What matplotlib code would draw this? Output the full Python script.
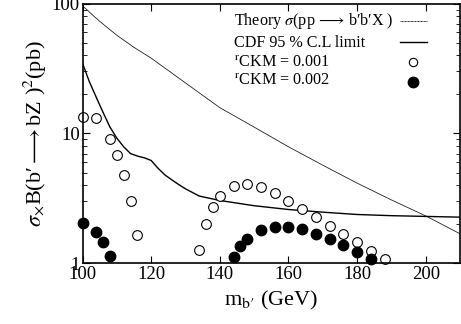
import matplotlib
matplotlib.use("Agg")
import matplotlib.pyplot as plt
from matplotlib.lines import Line2D
from matplotlib.ticker import FixedLocator, LogLocator, NullFormatter, FuncFormatter

plt.rcParams['font.family'] = ['Liberation Serif', 'DejaVu Serif']
plt.rcParams['mathtext.fontset'] = 'stix'

# theory cross section sigma(pp -> b'b'X)
m_theory = [100, 105, 110, 115, 120, 130, 140, 150, 160, 170, 180, 190, 200, 210]
s_theory = [96, 73, 57, 46, 38, 24.5, 15.8, 11.2, 7.9, 5.7, 4.15, 3.08, 2.32, 1.69]

# CDF 95% C.L. limit
m_cdf = [100, 102, 104, 106, 108, 110, 112, 114, 116, 118, 120, 122, 124, 126,
         128, 130, 134, 140, 150, 160, 170, 180, 190, 200, 210]
s_cdf = [34.7, 25, 19, 14.5, 11.2, 9.2, 7.9, 7.0, 6.7, 6.5, 6.2, 5.4, 4.8, 4.4,
         4.05, 3.75, 3.3, 3.05, 2.78, 2.6, 2.48, 2.38, 2.33, 2.3, 2.27]

# r_CKM = 0.001
m_r1 = [100, 104, 108, 110, 112, 114, 116, 134, 136, 138, 140, 144, 148, 152,
        156, 160, 164, 168, 172, 176, 180, 184, 188]
s_r1 = [13.5, 13.1, 9.1, 6.8, 4.8, 3.04, 1.66, 1.27, 2.01, 2.73, 3.31, 3.97,
        4.07, 3.85, 3.47, 3.04, 2.63, 2.27, 1.95, 1.68, 1.46, 1.25, 1.08]

# r_CKM = 0.002
m_r2 = [100, 104, 106, 108, 144, 146, 148, 152, 156, 160, 164, 168, 172, 176, 180, 184]
s_r2 = [2.04, 1.76, 1.47, 1.15, 1.12, 1.35, 1.53, 1.81, 1.92, 1.92, 1.83, 1.69,
        1.55, 1.38, 1.22, 1.08]

labels = [r"Theory $\sigma$(pp$\,\longrightarrow\,$b′b′X )",
          "CDF 95 % C.L limit",
          r"$^{\mathrm{r}}$CKM = 0.001",
          r"$^{\mathrm{r}}$CKM = 0.002"]

fig = plt.figure(figsize=(4.61, 3.24), dpi=100)
ax = fig.add_axes([0.179, 0.187, 0.819, 0.802])

ax.plot(m_theory, s_theory, color='#222222', lw=0.6)
ax.plot(m_cdf, s_cdf, color='black', lw=1.0)
ax.plot(m_r1, s_r1, 'o', ls='none', ms=7, mfc='white', mec='black', mew=0.8, clip_on=False)
ax.plot(m_r2, s_r2, 'o', ls='none', ms=7.5, color='black', clip_on=False)

ax.set_yscale('log')
ax.set_xlim(100, 210)
ax.set_ylim(1, 100)
ax.xaxis.set_major_locator(FixedLocator([100, 120, 140, 160, 180, 200]))
ax.yaxis.set_major_locator(FixedLocator([1, 10, 100]))
ax.yaxis.set_major_formatter(FuncFormatter(lambda v, p: '%d' % v))
ax.yaxis.set_minor_locator(LogLocator(base=10, subs=range(2, 10)))
ax.yaxis.set_minor_formatter(NullFormatter())
ax.tick_params(which='both', direction='in', top=True, right=True, labelsize=13.5, pad=2)
ax.tick_params(which='major', length=5, width=0.8)
ax.tick_params(which='minor', length=3, width=0.6)
for s in ax.spines.values():
    s.set_linewidth(1.2)

ax.set_xlabel(r"m$_{\mathrm{b′}}$ (GeV)", fontsize=16, labelpad=4)
ax.set_ylabel(r"$\sigma_{\times}$B(b′$\longrightarrow$bZ )$^{2}$(pb)", fontsize=16, labelpad=2)

# legend: left-aligned labels, samples to the right
handles = [Line2D([], [], color='#222222', lw=0.7, ls=(0, (1, 0.5))),
           Line2D([], [], color='black', lw=1.0),
           Line2D([], [], marker='o', ls='none', ms=6, mfc='white', mec='black', mew=0.8),
           Line2D([], [], marker='o', ls='none', ms=7.5, color='black')]
ax.legend(handles, [''] * 4, loc='upper left', bbox_to_anchor=(0.841, 0.955),
          frameon=False, fontsize=12, handlelength=1.6, handletextpad=0,
          labelspacing=0.25, borderpad=0, borderaxespad=0)
for lab, yy in zip(labels, [0.933, 0.848, 0.775, 0.706]):
    ax.text(0.401, yy, lab, transform=ax.transAxes, fontsize=11.6, va='center', ha='left')

fig.savefig('out.png', dpi=100)
